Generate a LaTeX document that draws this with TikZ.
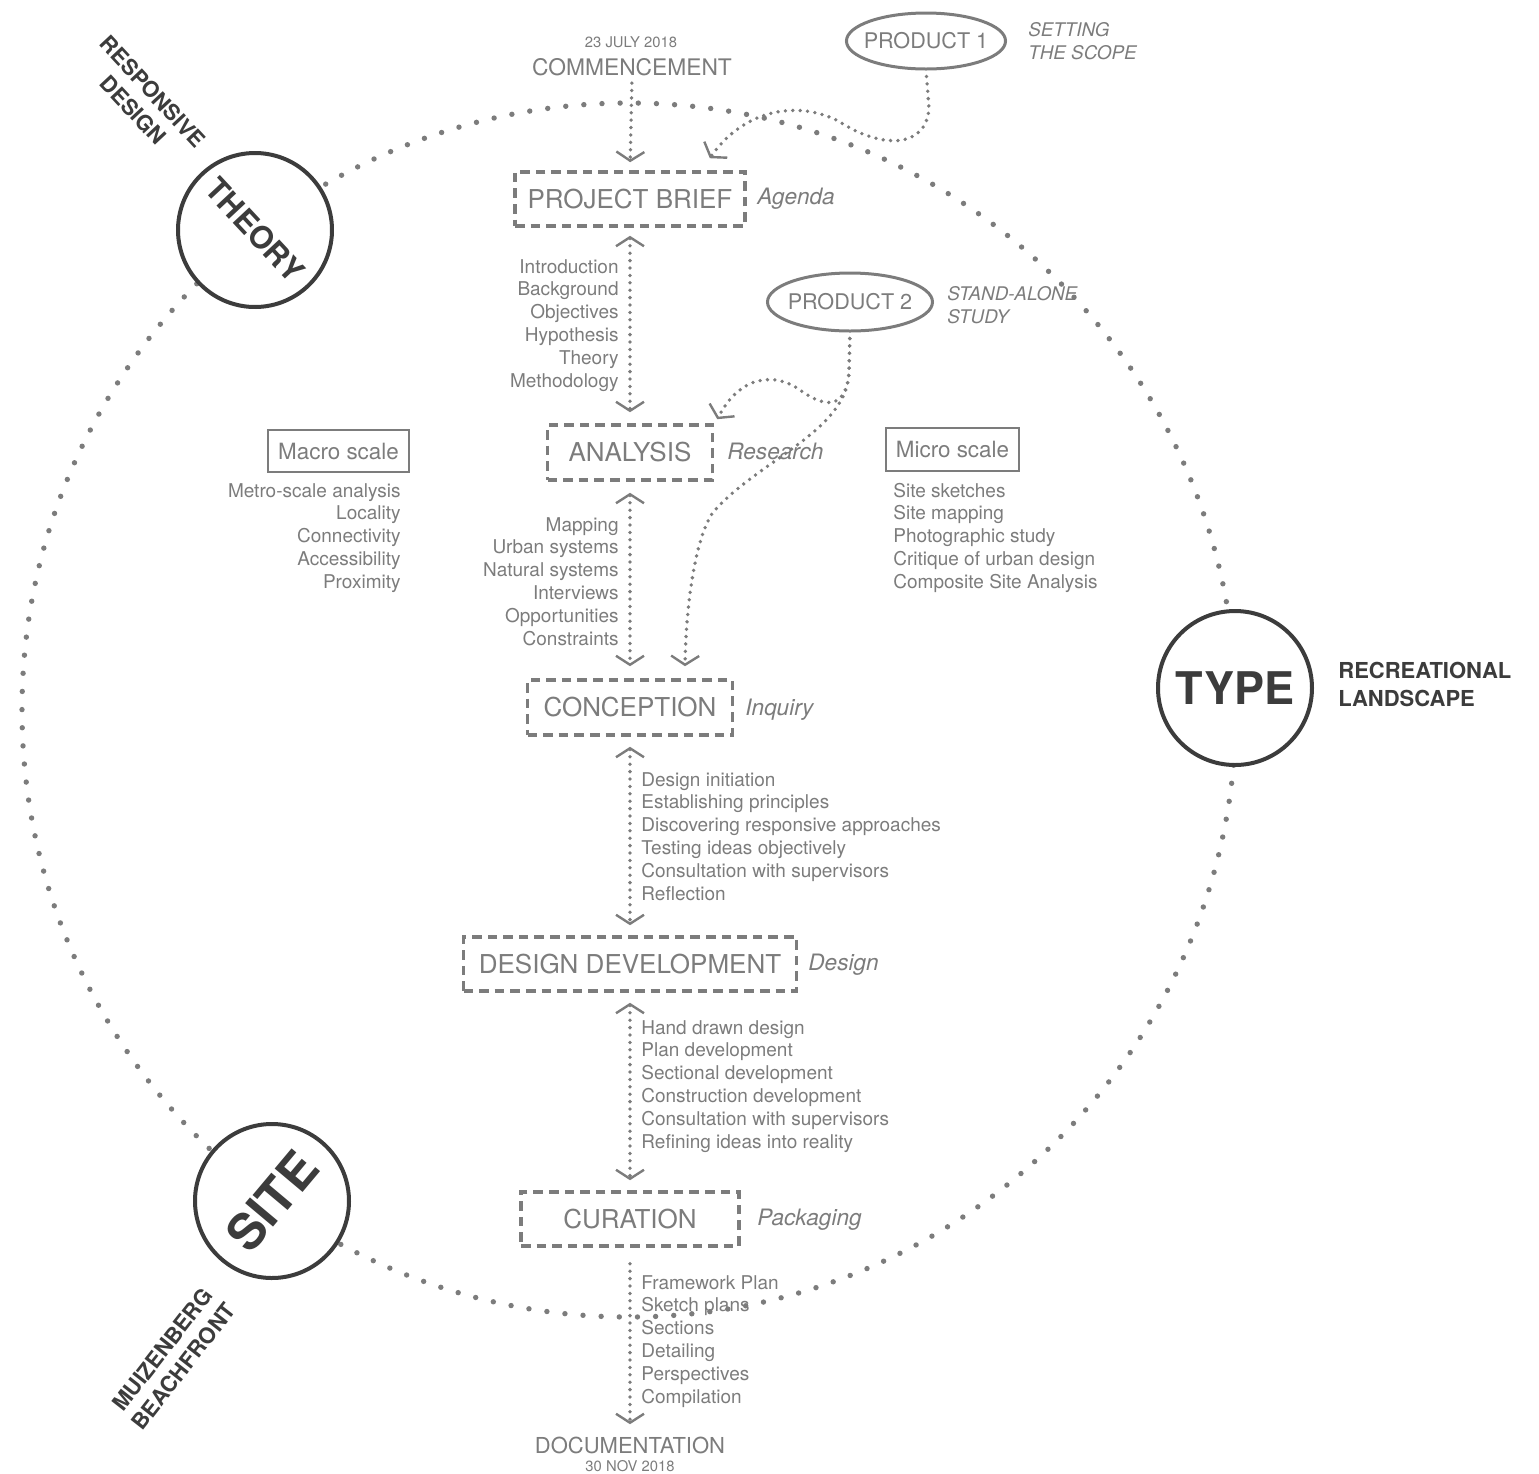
\documentclass[tikz,border=0pt]{standalone}
\usepackage{fontspec}
\setmainfont{TeX Gyre Heros}
\usetikzlibrary{positioning,calc,arrows.meta,shapes.geometric}

\definecolor{inkgray}{RGB}{124,124,124}
\definecolor{inkdark}{RGB}{60,60,60}

\tikzset{
  stage/.style={rectangle,draw=inkgray,line width=1.8pt,dash pattern=on 4.8pt off 3pt,text=inkgray,font=\fontsize{13}{15}\selectfont,inner sep=0pt},
  aside/.style={text=inkgray,font=\fontsize{11.3}{13}\selectfont\itshape,inner sep=0pt},
  remark/.style={text=inkgray,font=\fontsize{9.4}{11}\selectfont\itshape,inner sep=0pt},
  entry/.style={text=inkgray,font=\fontsize{9.5}{11.5}\selectfont,inner sep=0pt},
  scalebox/.style={rectangle,draw=inkgray,line width=1pt,text=inkgray,font=\fontsize{11.2}{13}\selectfont,inner sep=0pt},
  product/.style={ellipse,draw=inkgray,line width=1.5pt,text=inkgray,font=\fontsize{10.8}{13}\selectfont,inner xsep=-3pt,inner ysep=0pt},
  pillar/.style={circle,draw=inkdark,line width=2pt,fill=white,text=inkdark,inner sep=0pt,minimum size=77pt},
  tag/.style={text=inkdark,font=\fontsize{11}{13.5}\selectfont\bfseries,inner sep=0pt,align=center},
  flow/.style={draw=inkgray,line width=1.9pt,dash pattern=on 0pt off 3.7pt,line cap=round},
  orbit/.style={draw=inkgray,line width=2.7pt,dash pattern=on 0pt off 9.08pt,line cap=round},
}

\begin{document}
\begin{tikzpicture}[x=0.5pt,y=-0.5pt,>={Straight Barb[length=4.5pt,width=14pt,line width=1.2pt]}]
    \useasboundingbox (0,0) rectangle (1539,1474);

    % the big dotted ring
    \draw[orbit] (629,710) circle [radius=303.5pt];

    % time line
    \node[text=inkgray,font=\fontsize{7.4}{9}\selectfont,inner sep=0pt] (start-date) at (631,42) {23 JULY 2018};
    \node[text=inkgray,font=\fontsize{11.4}{13}\selectfont,inner sep=0pt] (commence) at (632,67) {COMMENCEMENT};

    \node[stage,minimum width=115pt,minimum height=27pt] (brief) at (630,199) {PROJECT BRIEF};
    \node[stage,minimum width=82.5pt,minimum height=27.5pt] (analysis) at (630,452.5) {ANALYSIS};
    \node[stage,minimum width=102.5pt,minimum height=27.5pt] (conception) at (630,707.5) {CONCEPTION};
    \node[stage,minimum width=166.5pt,minimum height=27pt] (devel) at (630,964) {DESIGN DEVELOPMENT};
    \node[stage,minimum width=109pt,minimum height=27pt] (curation) at (630,1219) {CURATION};

    \node[text=inkgray,font=\fontsize{11}{13}\selectfont,inner sep=0pt] (documentation) at (630,1445) {DOCUMENTATION};
    \node[text=inkgray,font=\fontsize{7.4}{9}\selectfont,inner sep=0pt] (end-date) at (630,1466) {30 NOV 2018};

    \node[aside,anchor=base west] (brief-aim) at (757,204) {Agenda};
    \node[aside,anchor=base west] (analysis-aim) at (727,459) {Research};
    \node[aside,anchor=base west] (conception-aim) at (745,715) {Inquiry};
    \node[aside,anchor=base west] (devel-aim) at (808,970) {Design};
    \node[aside,anchor=base west] (curation-aim) at (757,1225) {Packaging};

    \draw[flow,->,shorten <=3.5pt,shorten >=4pt] (commence.south) -- (brief.north);
    \draw[flow,<->,shorten <=4pt,shorten >=5.5pt] (brief.south) -- (analysis.north);
    \draw[flow,<->,shorten <=5.5pt,shorten >=6pt] (analysis.south) -- (conception.north);
    \draw[flow,<->,shorten <=5pt,shorten >=5pt] (conception.south) -- (devel.north);
    \draw[flow,<->,shorten <=5pt,shorten >=5pt] (devel.south) -- (curation.north);
    \draw[flow,->,shorten <=8pt,shorten >=6pt] (curation.south) -- (documentation.north);

    % what each stage holds
    \foreach \txt [count=\i] in {Introduction,Background,Objectives,Hypothesis,Theory,Methodology}
        \node[entry,anchor=base east] (brief-\i) at (619,{273+22.8*(\i-1)}) {\txt};
    \foreach \txt [count=\i] in {Mapping,Urban systems,Natural systems,Interviews,Opportunities,Constraints}
        \node[entry,anchor=base east] (analysis-\i) at (619,{531+22.8*(\i-1)}) {\txt};
    \foreach \txt [count=\i] in {Design initiation,Establishing principles,Discovering responsive approaches,Testing ideas objectively,Consultation with supervisors,Reflection}
        \node[entry,anchor=base west] (conception-\i) at (641,{786+22.8*(\i-1)}) {\txt};
    \foreach \txt [count=\i] in {Hand drawn design,Plan development,Sectional development,Construction development,Consultation with supervisors,Refining ideas into reality}
        \node[entry,anchor=base west] (devel-\i) at (641,{1034+22.8*(\i-1)}) {\txt};
    \foreach \txt [count=\i] in {Framework Plan,Sketch plans,Sections,Detailing,Perspectives,Compilation}
        \node[entry,anchor=base west] (curation-\i) at (641,{1289+22.8*(\i-1)}) {\txt};

    % scales
    \node[scalebox,minimum width=70.5pt,minimum height=21pt] (macro) at (338.5,451) {Macro scale};
    \node[scalebox,minimum width=66.5pt,minimum height=21.5pt] (micro) at (952.5,449.5) {Micro scale};
    \foreach \txt [count=\i] in {Metro-scale analysis,Locality,Connectivity,Accessibility,Proximity}
        \node[entry,anchor=base east] (macro-\i) at (401,{497+22.8*(\i-1)}) {\txt};
    \foreach \txt [count=\i] in {Site sketches,Site mapping,Photographic study,Critique of urban design,Composite Site Analysis}
        \node[entry,anchor=base west] (micro-\i) at (893,{497+22.8*(\i-1)}) {\txt};

    % products
    \node[product,minimum width=77.5pt,minimum height=28pt] (prod1) at (926,41) {PRODUCT 1};
    \node[remark,anchor=base west] (prod1-note-1) at (1028,36) {SETTING};
    \node[remark,anchor=base west] (prod1-note-2) at (1028,59) {THE SCOPE};
    \node[product,minimum width=82.5pt,minimum height=29pt] (prod2) at (850,302) {PRODUCT 2};
    \node[remark,anchor=base west] (prod2-note-1) at (947,300) {STAND-ALONE};
    \node[remark,anchor=base west] (prod2-note-2) at (947,323) {STUDY};

    \coordinate (p1tip) at ($(brief.north east)+(-37,-12)$);
    \coordinate (p2tip-a) at ($(analysis.north east)+(3,-4)$);
    \coordinate (p2tip-b) at ($(conception.north)+(55,-12)$);
    \draw[flow,->,shorten <=3pt] (prod1.south) -- (929,108) .. controls (926,150) and (880,148) .. (840,122) .. controls (800,100) and (745,108) .. (p1tip);
    \draw[flow,->,shorten <=3pt] (prod2.south) -- (849,372) .. controls (846,410) and (825,408) .. (800,390) .. controls (775,372) and (740,375) .. (p2tip-a);
    \draw[flow,->,shorten <=3pt] (prod2.south) -- (849,372) .. controls (848,430) and (760,460) .. (715,510) .. controls (697,530) and (686,600) .. (p2tip-b);

    % the three pillars
    \node[pillar,font=\fontsize{15.5}{18}\selectfont\bfseries,rotate=-47] (theory) at (255,230) {THEORY};
    \node[pillar,font=\fontsize{22.5}{26}\selectfont\bfseries] (type) at (1235,688) {TYPE};
    \node[pillar,font=\fontsize{25}{28}\selectfont\bfseries,rotate=50] (site) at (272,1201) {SITE};

    \node[tag,rotate=-47] (theory-tag) at (143,101) {RESPONSIVE\\DESIGN};
    \node[tag,anchor=base west] (type-tag-1) at (1338,678) {RECREATIONAL};
    \node[tag,anchor=base west] (type-tag-2) at (1338,706) {LANDSCAPE};
    \node[tag,rotate=52] (site-tag) at (173,1358) {MUIZENBERG\\BEACHFRONT};
\end{tikzpicture}
\end{document}
